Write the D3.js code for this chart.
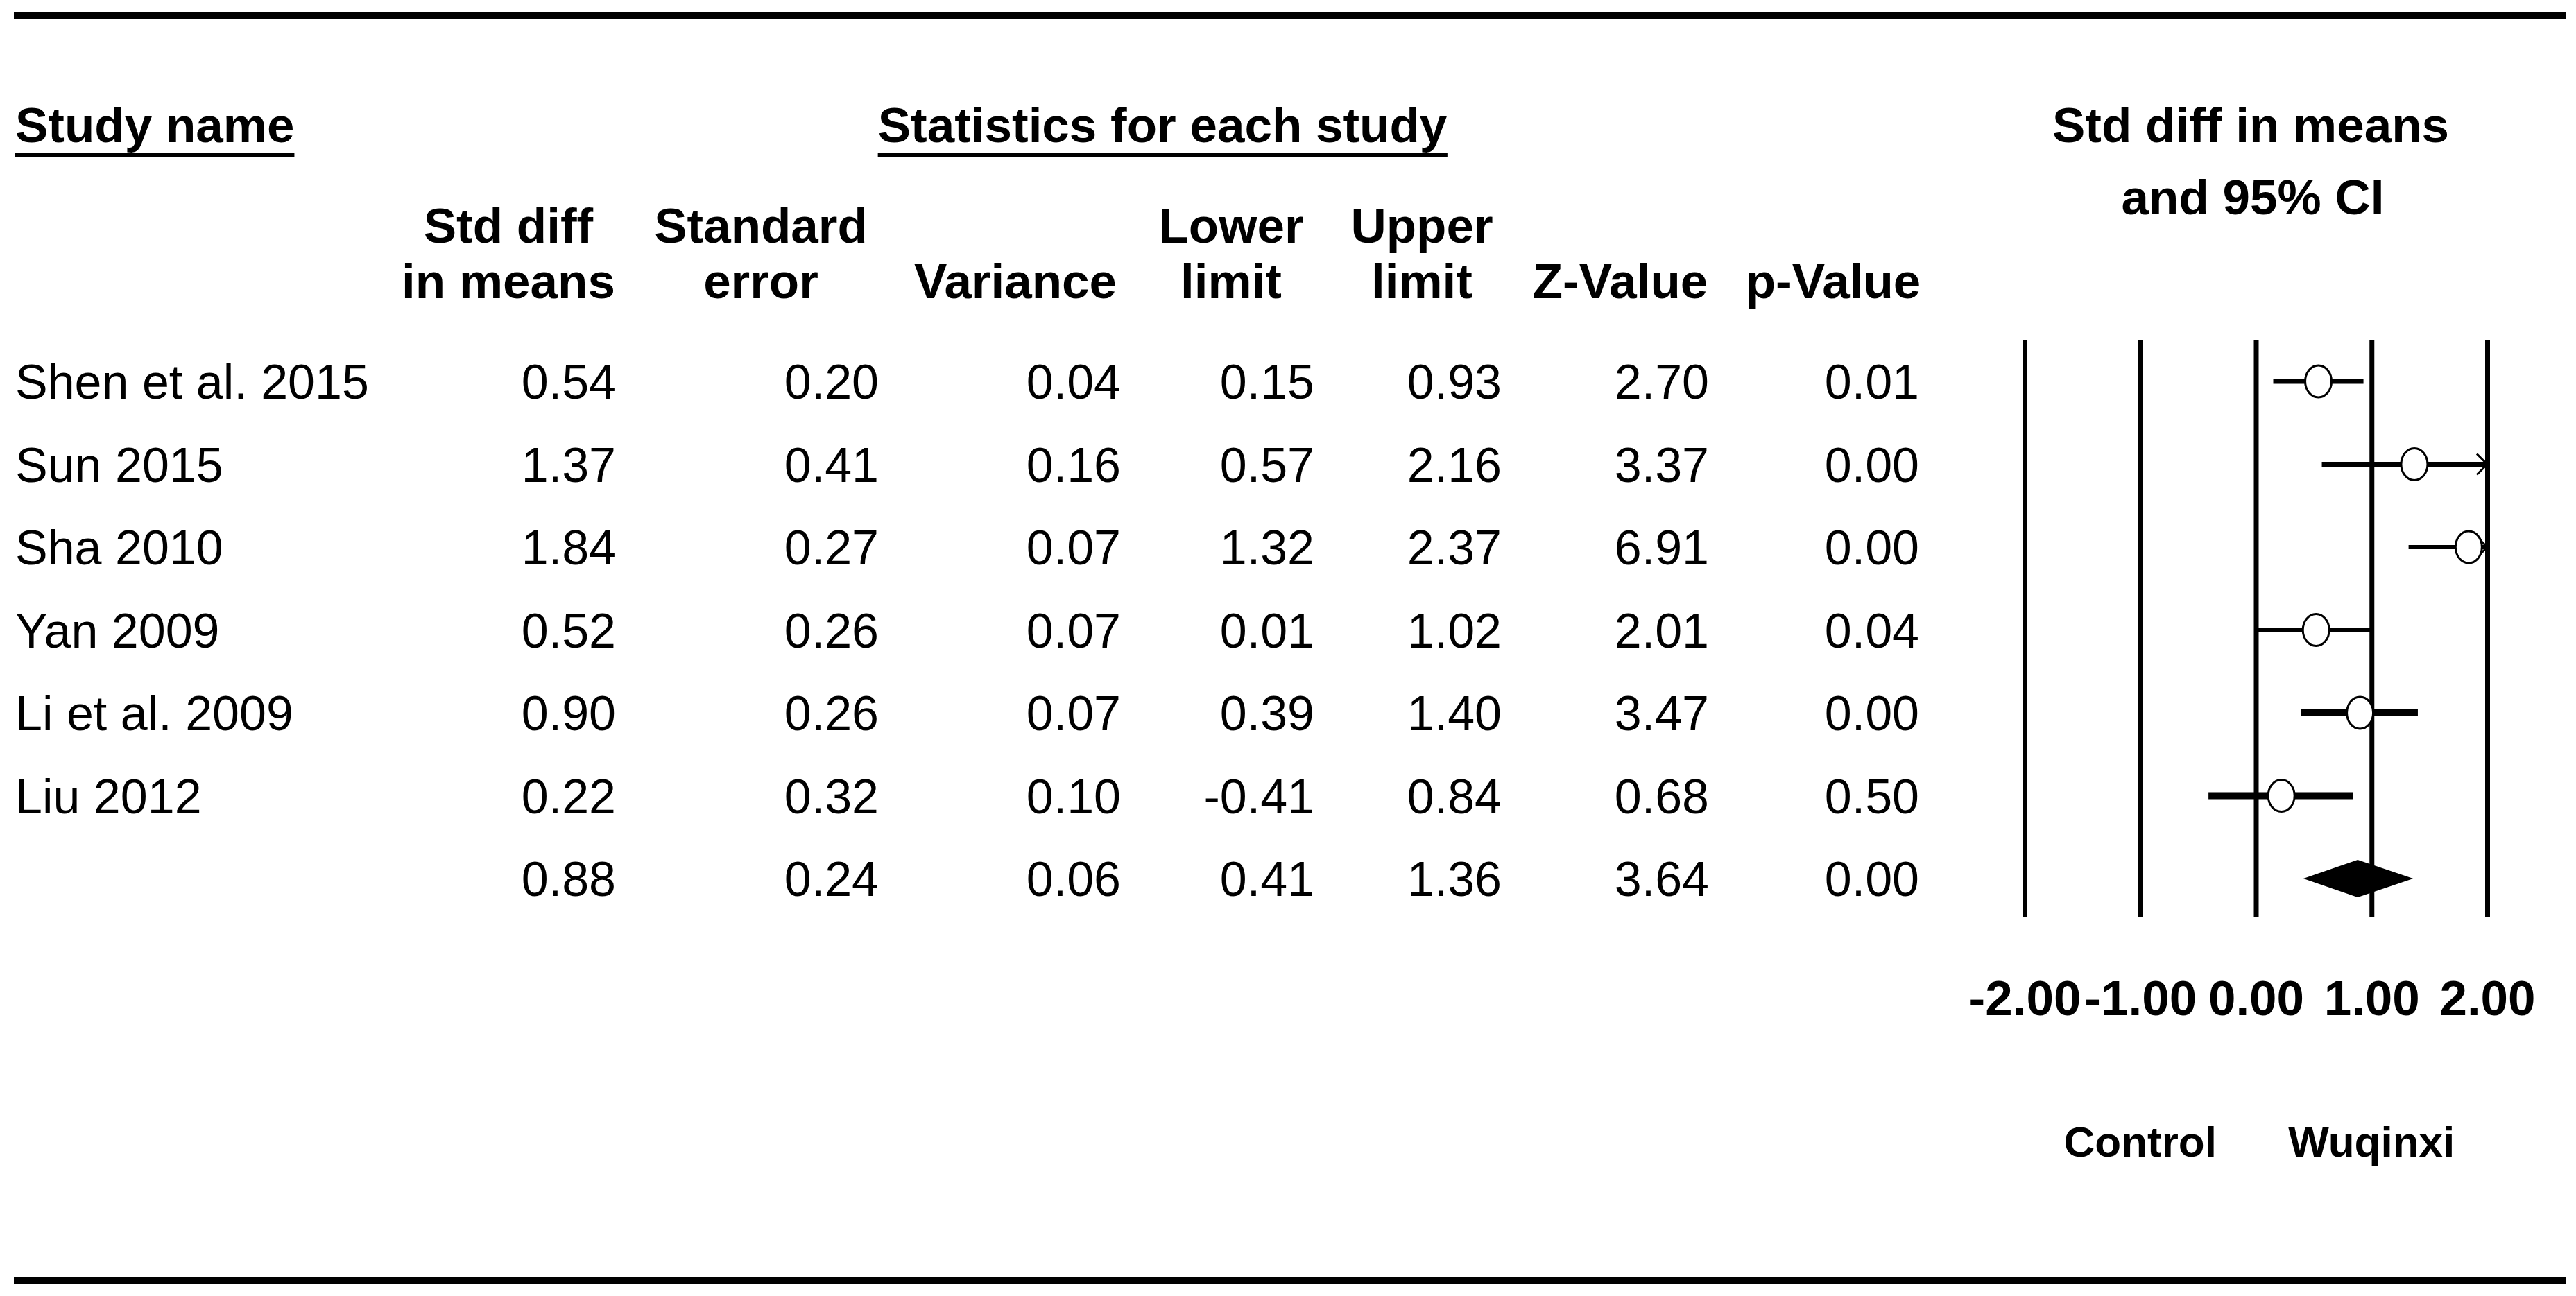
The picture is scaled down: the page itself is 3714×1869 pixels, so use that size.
<!DOCTYPE html>
<html>
<head>
<meta charset="utf-8">
<script src="https://cdn.jsdelivr.net/npm/d3@7"></script>
<style>
  html, body { margin: 0; padding: 0; background: #fff; }
  svg { display: block; font-family: "Liberation Sans", Arial, sans-serif; }
</style>
</head>
<body>
<div id="viz"></div>
<script>
// data
const studies  = ["Shen et al. 2015", "Sun 2015", "Sha 2010", "Yan 2009", "Li et al. 2009", "Liu 2012"];
const stdDiff  = [0.54, 1.37, 1.84, 0.52, 0.90, 0.22];
const stdErr   = [0.20, 0.41, 0.27, 0.26, 0.26, 0.32];
const variance = [0.04, 0.16, 0.07, 0.07, 0.07, 0.10];
const lower    = [0.15, 0.57, 1.32, 0.01, 0.39, -0.41];
const upper    = [0.93, 2.16, 2.37, 1.02, 1.40, 0.84];
const zValue   = [2.70, 3.37, 6.91, 2.01, 3.47, 0.68];
const pValue   = [0.01, 0.00, 0.00, 0.04, 0.00, 0.50];
// overall row: est, se, var, lower, upper, z, p
const overall  = [0.88, 0.24, 0.06, 0.41, 1.36, 3.64, 0.00];

const xTicks = [-2, -1, 0, 1, 2];
const colHeads = [
  ["Std diff", "in means"],
  ["Standard", "error"],
  ["", "Variance"],
  ["Lower", "limit"],
  ["Upper", "limit"],
  ["", "Z-Value"],
  ["", "p-Value"]
];
const sideLabels = ["Control", "Wuqinxi"];
const sideAt = [-1, 1];

// stroke weight of each CI line as drawn in the picture
const ciStroke = [7, 7, 6, 5, 10, 10];

const W = 3714, H = 1869;
const svg = d3.select("#viz").append("svg").attr("width", W).attr("height", H);

const bodySize = 70, boldSize = 71;

// rules
svg.append("rect").attr("x", 20).attr("y", 17).attr("width", 3680).attr("height", 10).attr("fill", "#000");
svg.append("rect").attr("x", 20).attr("y", 1842).attr("width", 3680).attr("height", 10).attr("fill", "#000");

// row positions: 6 studies + summary
const y = d3.scalePoint().domain(d3.range(7)).range([550, 1267]);
const base = i => y(i) + 25;

// table columns
const colRight  = [888, 1267, 1616, 1895, 2165, 2464, 2767];
const colCenter = [733, 1097, 1464, 1775, 2050, 2336, 2643];

// section headings with underline
function underlined(text, x, anchor) {
  const t = svg.append("text")
    .attr("x", x).attr("y", 205)
    .attr("text-anchor", anchor)
    .attr("font-weight", 700).attr("font-size", boldSize)
    .text(text);
  const bb = t.node().getBBox();
  svg.append("rect").attr("x", bb.x).attr("y", 221).attr("width", bb.width).attr("height", 5).attr("fill", "#000");
}
underlined("Study name", 22, "start");
underlined("Statistics for each study", 1676, "middle");

svg.selectAll("text.colhead")
  .data(colHeads)
  .join("text")
  .attr("class", "colhead")
  .attr("text-anchor", "middle")
  .attr("font-weight", 700).attr("font-size", boldSize)
  .attr("x", (d, i) => colCenter[i])
  .attr("y", 350)
  .each(function(d) {
    const t = d3.select(this);
    t.append("tspan").attr("x", t.attr("x")).attr("y", 350).text(d[0]);
    t.append("tspan").attr("x", t.attr("x")).attr("y", 430).text(d[1]);
  });

// right panel title
svg.append("text").attr("x", 3245).attr("y", 205).attr("text-anchor", "middle")
  .attr("font-weight", 700).attr("font-size", boldSize).text("Std diff in means");
svg.append("text").attr("x", 3248).attr("y", 309).attr("text-anchor", "middle")
  .attr("font-weight", 700).attr("font-size", boldSize).text("and 95% CI");

// table body
const rows = studies.map((s, i) => ({
  name: s,
  vals: [stdDiff[i], stdErr[i], variance[i], lower[i], upper[i], zValue[i], pValue[i]]
}));
rows.push({ name: "", vals: overall });

const fmt = v => v.toFixed(2);

const rowG = svg.selectAll("g.row").data(rows).join("g").attr("class", "row");
rowG.append("text")
  .attr("x", 22).attr("y", (d, i) => base(i))
  .attr("font-size", bodySize)
  .text(d => d.name);
rowG.each(function(d, i) {
  d3.select(this).selectAll("text.val")
    .data(d.vals)
    .join("text")
    .attr("class", "val")
    .attr("text-anchor", "end")
    .attr("font-size", bodySize)
    .attr("x", (v, j) => colRight[j])
    .attr("y", base(i))
    .text(fmt);
});

// forest plot
const x = d3.scaleLinear().domain([-2, 2]).range([2919, 3586]);
const plotTop = 490, plotBottom = 1323;

const axis = d3.axisBottom(x)
  .tickValues(xTicks)
  .tickSize(-(plotBottom - plotTop))
  .tickPadding(91)
  .tickFormat(d => d.toFixed(2));

const ax = svg.append("g").attr("transform", `translate(0,${plotBottom})`).call(axis);
ax.select(".domain").remove();
ax.selectAll(".tick line").attr("stroke", "#000").attr("stroke-width", 7);
ax.selectAll(".tick text")
  .attr("fill", "#000")
  .attr("font-family", '"Liberation Sans", Arial, sans-serif')
  .attr("font-weight", 700)
  .attr("font-size", boldSize);

svg.selectAll("text.side")
  .data(sideLabels)
  .join("text")
  .attr("class", "side")
  .attr("text-anchor", "middle")
  .attr("font-weight", 700).attr("font-size", 62)
  .attr("x", (d, i) => x(sideAt[i]))
  .attr("y", 1668)
  .text(d => d);

const [xMin, xMax] = x.domain();
const study = studies.map((s, i) => ({ est: stdDiff[i], lo: lower[i], hi: upper[i], i }));

// CI lines (clipped to the axis range)
svg.selectAll("line.ci")
  .data(study)
  .join("line")
  .attr("class", "ci")
  .attr("x1", d => x(Math.max(d.lo, xMin)))
  .attr("x2", d => x(Math.min(d.hi, xMax)))
  .attr("y1", d => y(d.i)).attr("y2", d => y(d.i))
  .attr("stroke", "#000")
  .attr("stroke-width", d => ciStroke[d.i]);

// arrow heads where the CI runs past the axis
svg.selectAll("path.arrow")
  .data(study.filter(d => d.hi > xMax))
  .join("path")
  .attr("class", "arrow")
  .attr("d", d => {
    const tx = x(xMax), ty = y(d.i);
    return `M${tx - 15},${ty - 15}L${tx},${ty}L${tx - 15},${ty + 15}`;
  })
  .attr("fill", "none")
  .attr("stroke", "#000")
  .attr("stroke-width", 3);

// point estimates
svg.selectAll("ellipse.pt")
  .data(study)
  .join("ellipse")
  .attr("class", "pt")
  .attr("cx", d => x(d.est))
  .attr("cy", d => y(d.i))
  .attr("rx", 19).attr("ry", 23)
  .attr("fill", "#fff")
  .attr("stroke", "#000")
  .attr("stroke-width", 3);

// summary diamond
const sy = y(6);
svg.append("path")
  .datum(overall)
  .attr("d", d => `M${x(d[3])},${sy}L${x(d[0])},${sy - 27}L${x(d[4])},${sy}L${x(d[0])},${sy + 27}Z`)
  .attr("fill", "#000");
</script>
</body>
</html>
